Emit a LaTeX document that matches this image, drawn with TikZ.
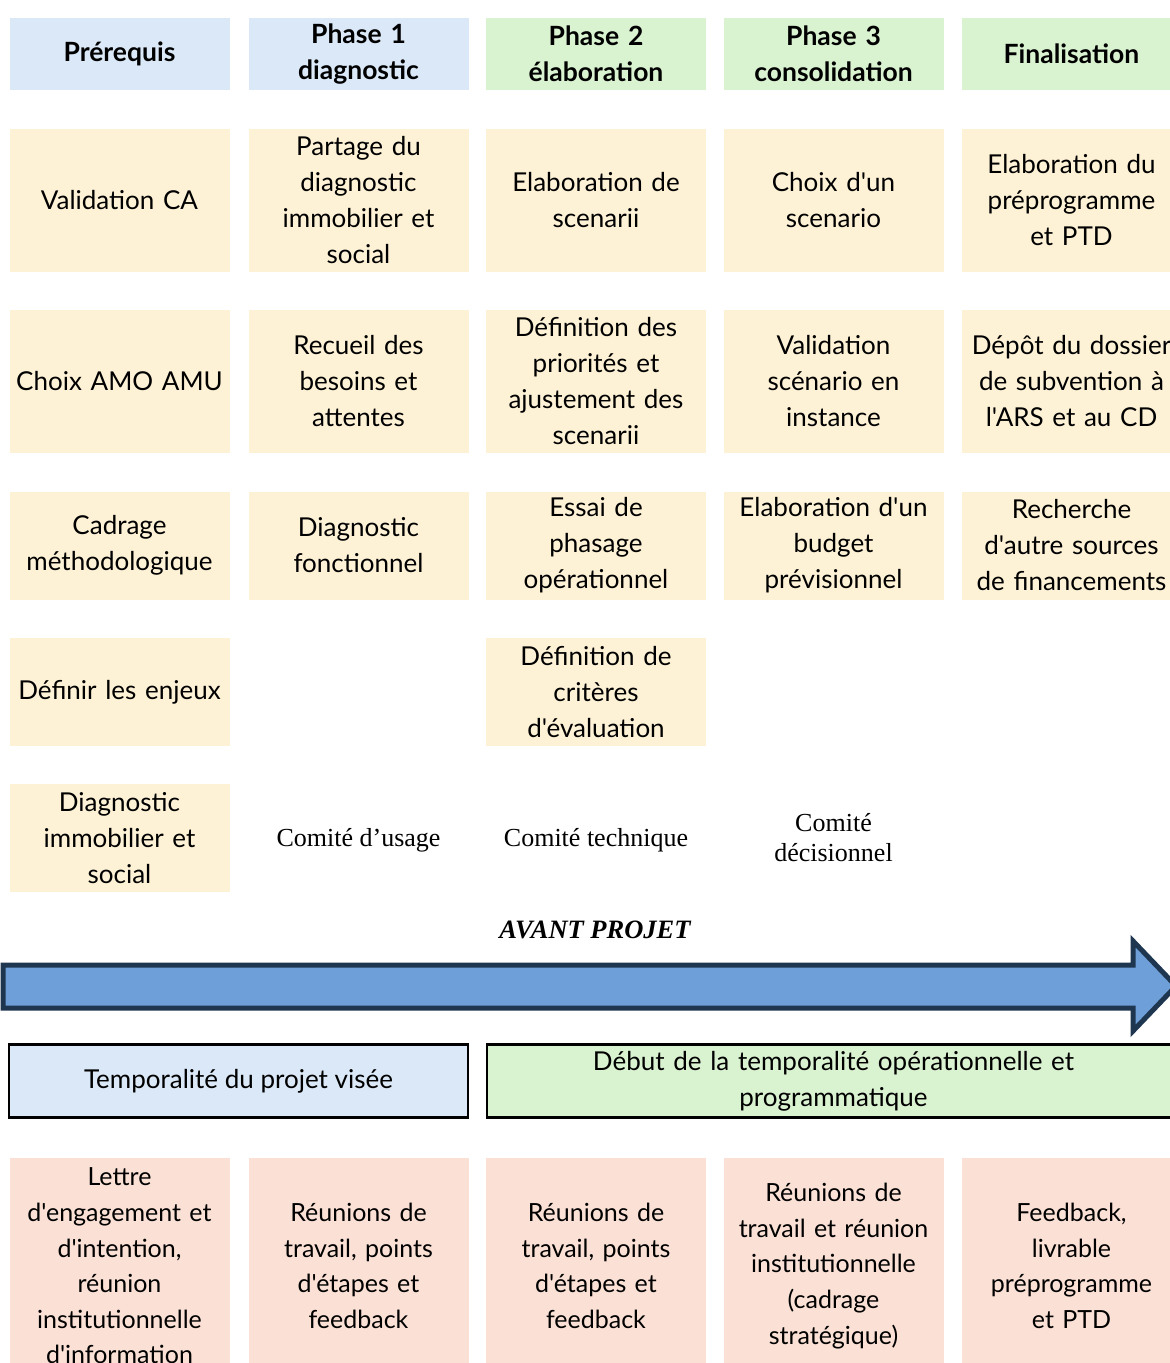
\documentclass[tikz,border=0pt]{standalone}
\usepackage{fontspec}
\newfontfamily\lato{Lato}
\newfontfamily\tnr{Liberation Serif}
\definecolor{hblue}{HTML}{DAE8F7}
\definecolor{hgreen}{HTML}{D9F2D0}
\definecolor{cyellow}{HTML}{FEF2D6}
\definecolor{cpeach}{HTML}{FBE1D5}
\definecolor{arrowfill}{HTML}{6F9FD9}
\definecolor{arrowline}{HTML}{1F3650}
\begin{document}
\begin{tikzpicture}[x=1pt,y=-1pt,
  cell/.style={rectangle, inner sep=0pt, minimum width=220pt, text width=214pt, align=center, font=\lato\fontsize{26}{36}\selectfont},
  hdr/.style={cell, minimum height=72pt, font=\lato\fontsize{26.5}{36}\selectfont\bfseries},
  hb/.style={hdr, fill=hblue},
  hg/.style={hdr, fill=hgreen},
  tall/.style={cell, fill=cyellow, minimum height=143pt},
  short/.style={cell, fill=cyellow, minimum height=108pt},
  bottom/.style={cell, fill=cpeach, minimum height=216pt, font=\lato\fontsize{25}{35.6}\selectfont},
  comite/.style={align=center, inner sep=0pt, font=\tnr\fontsize{26}{30}\selectfont},
  tempo/.style={rectangle, draw=black, line width=2.5pt, inner sep=0pt, minimum height=73pt, align=center, font=\lato\fontsize{26}{36}\selectfont}
]
\useasboundingbox (0,0) rectangle (1170,1363);

% header row
\node[hb] (h1) at (119.5,54) {Prérequis};
\node[hb] (h2) at (358.5,54) {Phase 1\\diagnostic};
\node[hg] (h3) at (596,54) {Phase 2\\élaboration};
\node[hg] (h4) at (833.5,54) {Phase 3\\consolidation};
\node[hg] (h5) at (1071.5,54) {Finalisation};

% row 1
\node[tall] (a1) at (119.5,200) {Validation CA};
\node[tall] (a2) at (358.5,200) {Partage du\\diagnostic\\immobilier et\\social};
\node[tall] (a3) at (596,200) {Elaboration de\\scenarii};
\node[tall] (a4) at (833.5,200) {Choix d'un\\scenario};
\node[tall] (a5) at (1071.5,200) {Elaboration du\\préprogramme\\et PTD};

% row 2
\node[tall] (b1) at (119.5,381) {Choix AMO AMU};
\node[tall] (b2) at (358.5,381) {Recueil des\\besoins et\\attentes};
\node[tall] (b3) at (596,381) {Définition des\\priorités et\\ajustement des\\scenarii};
\node[tall] (b4) at (833.5,381) {Validation\\scénario en\\instance};
\node[tall] (b5) at (1071.5,381) {Dépôt du dossier\\de subvention à\\l'ARS et au CD};

% row 3
\node[short] (c1) at (119.5,545.5) {Cadrage\\méthodologique};
\node[short] (c2) at (358.5,545.5) {Diagnostic\\fonctionnel};
\node[short] (c3) at (596,545.5) {Essai de\\phasage\\opérationnel};
\node[short] (c4) at (833.5,545.5) {Elaboration d'un\\budget\\prévisionnel};
\node[short] (c5) at (1071.5,545.5) {Recherche\\d'autre sources\\de financements};

% row 4
\node[short] (d1) at (119.5,692) {Définir les enjeux};
\node[short] (d3) at (596,692) {Définition de\\critères\\d'évaluation};

% row 5
\node[short] (e1) at (119.5,838) {Diagnostic\\immobilier et\\social};
\node[comite] (k2) at (358.5,840) {Comité d’usage};
\node[comite] (k3) at (596,840) {Comité technique};
\node[comite] (k4) at (833.5,838) {Comité\\décisionnel};

% avant projet
\node[inner sep=0pt, font=\tnr\fontsize{26.5}{30}\selectfont\bfseries\itshape] (ap) at (595,930) {AVANT PROJET};

% big arrow
\draw[line width=5pt, draw=arrowline, fill=arrowfill]
  (3,965) -- (1133,965) -- (1133,941) -- (1176,986) -- (1133,1031) -- (1133,1008) -- (3,1008) -- cycle;

% temporalite boxes
\node[tempo, fill=hblue, minimum width=459pt] (t1) at (238.5,1081) {Temporalité du projet visée};
\node[tempo, fill=hgreen, minimum width=693pt, text width=680pt] (t2) at (833.5,1081) {Début de la temporalité opérationnelle et\\programmatique};

% bottom row
\node[bottom] (f1) at (119.5,1266) {Lettre\\d'engagement et\\d'intention,\\réunion\\institutionnelle\\d'information};
\node[bottom] (f2) at (358.5,1266) {Réunions de\\travail, points\\d'étapes et\\feedback};
\node[bottom] (f3) at (596,1266) {Réunions de\\travail, points\\d'étapes et\\feedback};
\node[bottom] (f4) at (833.5,1266) {Réunions de\\travail et réunion\\institutionnelle\\(cadrage\\stratégique)};
\node[bottom] (f5) at (1071.5,1266) {Feedback,\\livrable\\préprogramme\\et PTD};
\end{tikzpicture}
\end{document}
